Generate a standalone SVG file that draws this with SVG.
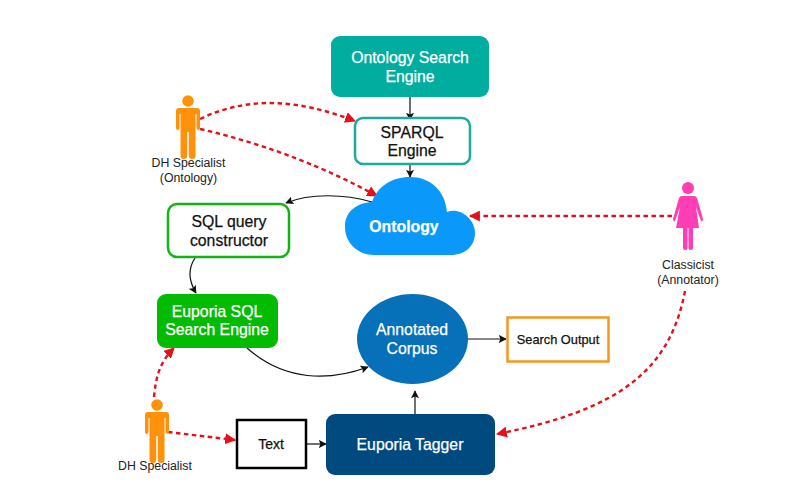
<svg xmlns="http://www.w3.org/2000/svg" width="802" height="487" viewBox="0 0 802 487">
<style>
text{font-family:"Liberation Sans",Arial,sans-serif;text-anchor:middle}
.w{fill:#fff;font-size:15.800px;stroke:#fff;stroke-width:.25px}
.k{fill:#111;font-size:15.800px;stroke:#111;stroke-width:.25px}
.s{fill:#222;font-size:12.300px}
.c{fill:none;stroke:#111;stroke-width:1.200}
.r{fill:none;stroke:#e60f1a;stroke-width:2.400;stroke-dasharray:4.500 3.500}
</style>
<defs>
<marker id="a" viewBox="0 0 10 10" refX="9" refY="5" markerWidth="8" markerHeight="8" markerUnits="userSpaceOnUse" orient="auto"><path d="M0 0L10 5L0 10L2 5Z" fill="#111"/></marker>
<marker id="ra" viewBox="0 0 10 10" refX="9" refY="5" markerWidth="11" markerHeight="11" markerUnits="userSpaceOnUse" orient="auto"><path d="M0 0L10 5L0 10Z" fill="#e60f1a"/></marker>
<g id="man"><circle cx="0" cy="-26" r="5.800"/><path d="M-9-19H9Q12-19 12-16V1Q12 3 10.300 3Q9 3 8.500 1V-13H7.500V29Q7.500 32 4 32Q1 32 .8 29V5H-.8V29Q-1 32-4 32Q-7.500 32-7.500 29V-13H-8.500V1Q-9 3-10.300 3Q-12 3-12 1V-16Q-12-19-9-19Z"/></g>
</defs>
<rect width="802" height="487" fill="#fff"/>
<g id="connectors">
<path class="c" d="M410 97V120" marker-end="url(#a)"/>
<path class="c" d="M410 165V177" marker-end="url(#a)"/>
<path class="c" d="M372 202C345 194 310 193 286 203" marker-end="url(#a)"/>
<path class="c" d="M195 258C187 270 190 283 196 293" marker-end="url(#a)"/>
<path class="c" d="M247 348C285 382 330 381 368 367" marker-end="url(#a)"/>
<path class="c" d="M468 339H506" marker-end="url(#a)"/>
<path class="c" d="M415 414V391" marker-end="url(#a)"/>
<path class="c" d="M307 444H326" marker-end="url(#a)"/>
<path class="r" d="M200 119C250 95 300 100 355 121" marker-end="url(#ra)"/>
<path class="r" d="M200 129C270 145 330 170 377 196" marker-end="url(#ra)"/>
<path class="r" d="M672 216H470" marker-end="url(#ra)"/>
<path class="r" d="M685 291C670 370 620 410 497 434" marker-end="url(#ra)"/>
<path class="r" d="M154 397C156 376 160 362 174 348" marker-end="url(#ra)"/>
<path class="r" d="M168 432L235 440" marker-end="url(#ra)"/>
</g>
<g id="ontology-search-engine"><rect x="331" y="36" width="158" height="61" rx="9" fill="#00ad9f"/><text class="w" x="410" y="63">Ontology Search</text><text class="w" x="410" y="82">Engine</text></g>
<g id="sparql-engine"><rect x="355" y="118" width="115" height="46" rx="8" fill="#fff" stroke="#1fa89d" stroke-width="2.500"/><text class="k" x="412" y="138">SPARQL</text><text class="k" x="412" y="156">Engine</text></g>
<g id="ontology"><path d="M374 255C358 255 345 243 345 227C345 211 357 203 372 202C378 186 392 177 410 177C430 177 445 190 447 212C460 207 475 219 475 233C475 246 465 255 451 255Z" fill="#0a98fb"/><text class="w" x="404" y="232" font-weight="bold">Ontology</text></g>
<g id="sql-query-constructor"><rect x="168" y="204" width="121" height="53" rx="9" fill="#fff" stroke="#14b314" stroke-width="2.500"/><text class="k" x="229" y="227">SQL query</text><text class="k" x="229" y="246">constructor</text></g>
<g id="euporia-sql-search-engine"><rect x="157" y="294" width="121" height="54" rx="9" fill="#04bb04"/><text class="w" x="217" y="317">Euporia SQL</text><text class="w" x="217" y="335">Search Engine</text></g>
<g id="annotated-corpus"><ellipse cx="412.500" cy="339" rx="55.500" ry="45" fill="#0670b8"/><text class="w" x="412" y="335">Annotated</text><text class="w" x="412" y="354">Corpus</text></g>
<g id="search-output"><rect x="507.500" y="317.500" width="101" height="44" fill="#fff" stroke="#f5981f" stroke-width="2.500"/><text class="k" x="558" y="344" style="font-size:12.800px">Search Output</text></g>
<g id="euporia-tagger"><rect x="326" y="414" width="169" height="61" rx="9" fill="#004a80"/><text class="w" x="410" y="450">Euporia Tagger</text></g>
<g id="text"><rect x="237" y="420" width="69" height="48" fill="#fff" stroke="#000" stroke-width="2.500"/><text class="k" x="271" y="449" style="font-size:14px">Text</text></g>
<g id="dh-specialist-ontology"><use href="#man" x="188" y="127" fill="#ff920a"/><text class="s" x="188.500" y="167">DH Specialist</text><text class="s" x="188.500" y="182">(Ontology)</text></g>
<g id="dh-specialist"><use href="#man" x="157" y="431" fill="#ff920a"/><text class="s" x="155" y="470">DH Specialist</text></g>
<g id="classicist"><circle cx="688" cy="188" r="6" fill="#ff3db4"/><path d="M682 196H694Q696 196 697 198L703 219Q703 222 701 221L696 207L699 228H693V248Q693 250 690.500 250Q688.500 250 688.500 248V228H687.500V248Q687.500 250 685.500 250Q683 250 683 248V228H676L680 207L675 221Q673 222 673 219L679 198Q680 196 682 196Z" fill="#ff3db4"/><text class="s" x="688" y="269">Classicist</text><text class="s" x="688" y="284">(Annotator)</text></g>
</svg>
